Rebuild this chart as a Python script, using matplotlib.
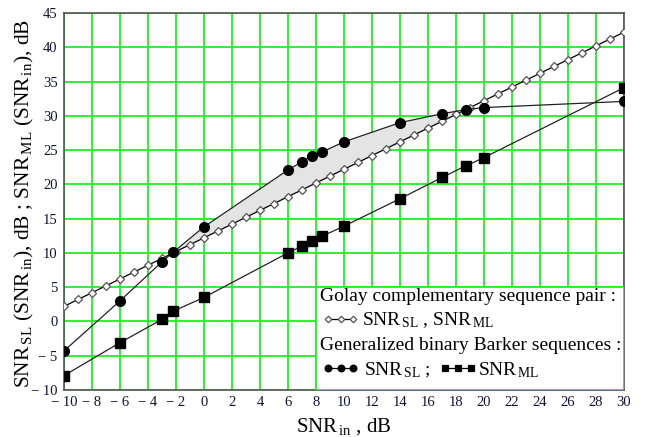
import numpy as np
import matplotlib
matplotlib.use("Agg")
import matplotlib.pyplot as plt
from matplotlib.patches import Rectangle
from matplotlib.lines import Line2D

plt.rcParams['font.family'] = ['Liberation Serif', 'DejaVu Serif']
plt.rcParams['mathtext.fontset'] = 'custom'
plt.rcParams['mathtext.rm'] = 'Liberation Serif'
plt.rcParams['mathtext.it'] = 'Liberation Serif:italic'
plt.rcParams['mathtext.bf'] = 'Liberation Serif:bold'

# Golay complementary pair: output SNR (side lobes and main lobe coincide)
golay_x = [-10, -9, -8, -7, -6, -5, -4, -3, -2, -1, 0, 1, 2, 3, 4, 5, 6, 7, 8, 9,
           10, 11, 12, 13, 14, 15, 16, 17, 18, 19, 20, 21, 22, 23, 24, 25, 26, 27,
           28, 29, 30]
golay_snr = [2.2, 3.2, 4.2, 5.2, 6.2, 7.2, 8.2, 9.2, 10.2, 11.2, 12.2, 13.2, 14.2,
             15.2, 16.2, 17.2, 18.2, 19.2, 20.2, 21.2, 22.2, 23.2, 24.2, 25.2, 26.2,
             27.2, 28.2, 29.2, 30.2, 31.2, 32.2, 33.2, 34.2, 35.2, 36.2, 37.2, 38.2,
             39.2, 40.2, 41.2, 42.2]

# Generalized binary Barker sequences
barker_x = [-10, -6, -3, -2.2, 0, 6, 7, 7.7, 8.4, 10, 14, 17, 18.7, 20, 30]
barker_sl = [-4.3, 3.0, 8.7, 10.1, 13.8, 22.1, 23.3, 24.2, 24.7, 26.2, 29.0, 30.3,
             30.9, 31.2, 32.1]
barker_ml = [-7.9, -3.1, 0.3, 1.5, 3.5, 10.0, 11.0, 11.8, 12.4, 13.9, 17.9, 21.0,
             22.7, 23.9, 34.1]

x_ticks = [-10, -8, -6, -4, -2, 0, 2, 4, 6, 8, 10, 12, 14, 16, 18, 20, 22, 24, 26, 28, 30]
x_tick_labels = ['\u2212 10', '\u2212 8', '\u2212 6', '\u2212 4', '\u2212 2', '0', '2', '4',
                 '6', '8', '10', '12', '14', '16', '18', '20', '22', '24', '26', '28', '30']
y_ticks = [-10, -5, 0, 5, 10, 15, 20, 25, 30, 35, 40, 45]
y_tick_labels = ['\u2212 10', '\u2212 5', '0', '5', '10', '15', '20', '25', '30', '35',
                 '40', '45']

GRID = '#22ee22'

fig = plt.figure(figsize=(6.45, 4.37), dpi=100)
ax = fig.add_axes([0.0992, 0.1076, 0.8682, 0.8627])
ax.set_xlim(-10, 30)
ax.set_ylim(-10, 45)

# green grid
ax.set_xticks(x_ticks)
ax.set_xticklabels(x_tick_labels)
ax.set_yticks(y_ticks)
ax.set_yticklabels(y_tick_labels)
ax.grid(True, color=GRID, linewidth=1.3)
ax.set_axisbelow(True)
ax.tick_params(length=0, labelsize=10.5, pad=4.5, colors='#111133')

for s in ax.spines.values():
    s.set_color('#555555')
    s.set_linewidth(1.2)

# shaded gain region where Barker SL exceeds Golay
xf = np.linspace(-10, 30, 2001)
g_f = np.interp(xf, golay_x, golay_snr)
b_f = np.interp(xf, barker_x, barker_sl)
ax.fill_between(xf, g_f, b_f, where=b_f > g_f, interpolate=True,
                color='#e4e4e4', linewidth=0, zorder=2)

ax.plot(golay_x, golay_snr, color='black', linewidth=0.9, marker='D', markersize=4,
        markerfacecolor='white', markeredgecolor='#555555', markeredgewidth=0.9, zorder=4)
ax.plot(barker_x, barker_sl, color='#222222', linewidth=0.9, marker='o', markersize=7,
        markerfacecolor='black', markeredgecolor='black', zorder=5)
ax.plot(barker_x, barker_ml, color='#222222', linewidth=0.9, marker='s', markersize=7,
        markerfacecolor='black', markeredgecolor='black', zorder=5)

# legend panel in the lower right corner
ax.add_patch(Rectangle((8, -10), 22, 15, facecolor='white', edgecolor=GRID,
                       linewidth=1.3, zorder=6))

fs = 14
tx = 0.458
ax.text(tx, 0.247, 'Golay complementary sequence pair :', transform=ax.transAxes,
        fontsize=fs, va='center', ha='left', zorder=7)
ax.text(0.532, 0.185, r'$\mathrm{SNR}_{\,\mathrm{SL}}$ , $\mathrm{SNR}_{\,\mathrm{ML}}$',
        transform=ax.transAxes, fontsize=fs, va='center', ha='left', zorder=7)
ax.text(tx, 0.117, 'Generalized binary Barker sequences :', transform=ax.transAxes,
        fontsize=fs, va='center', ha='left', zorder=7)
ax.text(0.536, 0.052, r'$\mathrm{SNR}_{\,\mathrm{SL}}$ ;', transform=ax.transAxes,
        fontsize=fs, va='center', ha='left', zorder=7)
ax.text(0.739, 0.052, r'$\mathrm{SNR}_{\,\mathrm{ML}}$', transform=ax.transAxes,
        fontsize=fs, va='center', ha='left', zorder=7)

def sample(x0, y0, marker, ms, fc, ec, lw):
    xs = [x0, x0 + 0.0225, x0 + 0.045]
    ln = Line2D(xs, [y0] * 3, transform=ax.transAxes, color='black', linewidth=lw,
                marker=marker, markersize=ms, markerfacecolor=fc, markeredgecolor=ec,
                markeredgewidth=0.9, zorder=8, clip_on=False)
    ax.add_line(ln)

sample(0.472, 0.188, 'D', 3.3, 'white', '#555555', 0.9)
sample(0.472, 0.057, 'o', 4.8, 'black', 'black', 0.9)
sample(0.681, 0.057, 's', 4.4, 'black', 'black', 0.9)

ax.set_xlabel(r'$\mathrm{SNR}_{\,\mathrm{in}}$ , dB', fontsize=15, labelpad=5)
fig.text(24 / 645, 0.535,
         r'$\mathrm{SNR}_{\,\mathrm{SL}}\ (\mathrm{SNR}_{\,\mathrm{in}})$, dB ; '
         r'$\mathrm{SNR}_{\,\mathrm{ML}}\ (\mathrm{SNR}_{\,\mathrm{in}})$, dB',
         fontsize=15.5, rotation=90, ha='center', va='center')

fig.savefig('out.png', dpi=100)
